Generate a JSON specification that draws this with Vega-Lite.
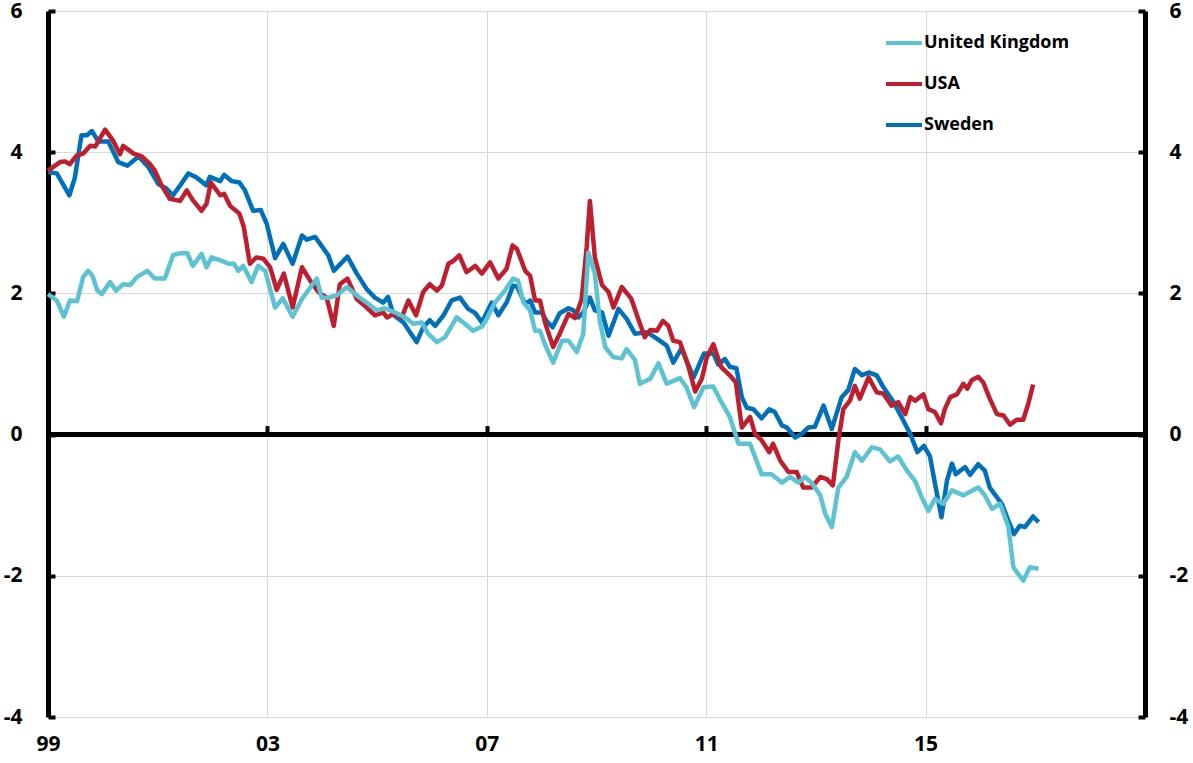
{
"$schema":"https://vega.github.io/schema/vega-lite/v6.json",
"width":1097,"height":706,
"autosize":{"type":"none"},
"padding":{"left":48,"top":11,"right":48,"bottom":46},
"config":{"view":{"stroke":null},"font":"Open Sans"},
"datasets":{"series":[
{"country":"Sweden","year":1999.00,"value":3.72},{"country":"Sweden","year":1999.16,"value":3.70},{"country":"Sweden","year":1999.39,"value":3.39},{"country":"Sweden","year":1999.49,"value":3.64},{"country":"Sweden","year":1999.61,"value":4.24},{"country":"Sweden","year":1999.71,"value":4.24},{"country":"Sweden","year":1999.80,"value":4.30},{"country":"Sweden","year":1999.92,"value":4.15},{"country":"Sweden","year":2000.10,"value":4.15},{"country":"Sweden","year":2000.28,"value":3.86},{"country":"Sweden","year":2000.45,"value":3.81},{"country":"Sweden","year":2000.65,"value":3.94},{"country":"Sweden","year":2000.83,"value":3.79},{"country":"Sweden","year":2001.01,"value":3.55},{"country":"Sweden","year":2001.15,"value":3.49},{"country":"Sweden","year":2001.28,"value":3.39},{"country":"Sweden","year":2001.41,"value":3.53},{"country":"Sweden","year":2001.56,"value":3.70},{"country":"Sweden","year":2001.71,"value":3.64},{"country":"Sweden","year":2001.89,"value":3.53},{"country":"Sweden","year":2001.95,"value":3.65},{"country":"Sweden","year":2002.14,"value":3.59},{"country":"Sweden","year":2002.21,"value":3.68},{"country":"Sweden","year":2002.35,"value":3.59},{"country":"Sweden","year":2002.49,"value":3.57},{"country":"Sweden","year":2002.59,"value":3.46},{"country":"Sweden","year":2002.74,"value":3.17},{"country":"Sweden","year":2002.88,"value":3.18},{"country":"Sweden","year":2002.99,"value":2.98},{"country":"Sweden","year":2003.14,"value":2.50},{"country":"Sweden","year":2003.29,"value":2.70},{"country":"Sweden","year":2003.46,"value":2.42},{"country":"Sweden","year":2003.63,"value":2.82},{"country":"Sweden","year":2003.72,"value":2.76},{"country":"Sweden","year":2003.87,"value":2.80},{"country":"Sweden","year":2004.11,"value":2.54},{"country":"Sweden","year":2004.21,"value":2.32},{"country":"Sweden","year":2004.46,"value":2.52},{"country":"Sweden","year":2004.63,"value":2.28},{"country":"Sweden","year":2004.81,"value":2.06},{"country":"Sweden","year":2004.96,"value":1.94},{"country":"Sweden","year":2005.11,"value":1.87},{"country":"Sweden","year":2005.20,"value":1.95},{"country":"Sweden","year":2005.30,"value":1.69},{"country":"Sweden","year":2005.48,"value":1.59},{"country":"Sweden","year":2005.60,"value":1.45},{"country":"Sweden","year":2005.72,"value":1.31},{"country":"Sweden","year":2005.84,"value":1.52},{"country":"Sweden","year":2005.96,"value":1.62},{"country":"Sweden","year":2006.06,"value":1.54},{"country":"Sweden","year":2006.21,"value":1.69},{"country":"Sweden","year":2006.36,"value":1.90},{"country":"Sweden","year":2006.51,"value":1.94},{"country":"Sweden","year":2006.66,"value":1.78},{"country":"Sweden","year":2006.79,"value":1.72},{"country":"Sweden","year":2006.91,"value":1.59},{"country":"Sweden","year":2007.09,"value":1.87},{"country":"Sweden","year":2007.21,"value":1.69},{"country":"Sweden","year":2007.36,"value":1.87},{"country":"Sweden","year":2007.48,"value":2.11},{"country":"Sweden","year":2007.55,"value":2.10},{"country":"Sweden","year":2007.70,"value":1.85},{"country":"Sweden","year":2007.79,"value":1.90},{"country":"Sweden","year":2007.88,"value":1.73},{"country":"Sweden","year":2008.00,"value":1.73},{"country":"Sweden","year":2008.09,"value":1.61},{"country":"Sweden","year":2008.20,"value":1.52},{"country":"Sweden","year":2008.33,"value":1.72},{"country":"Sweden","year":2008.49,"value":1.79},{"country":"Sweden","year":2008.58,"value":1.76},{"country":"Sweden","year":2008.67,"value":1.66},{"country":"Sweden","year":2008.76,"value":1.73},{"country":"Sweden","year":2008.88,"value":1.94},{"country":"Sweden","year":2008.97,"value":1.76},{"country":"Sweden","year":2009.10,"value":1.73},{"country":"Sweden","year":2009.22,"value":1.40},{"country":"Sweden","year":2009.40,"value":1.78},{"country":"Sweden","year":2009.55,"value":1.64},{"country":"Sweden","year":2009.70,"value":1.43},{"country":"Sweden","year":2009.92,"value":1.45},{"country":"Sweden","year":2010.10,"value":1.36},{"country":"Sweden","year":2010.28,"value":1.26},{"country":"Sweden","year":2010.40,"value":1.02},{"country":"Sweden","year":2010.55,"value":1.22},{"country":"Sweden","year":2010.77,"value":0.81},{"country":"Sweden","year":2010.96,"value":1.15},{"country":"Sweden","year":2011.13,"value":1.15},{"country":"Sweden","year":2011.22,"value":0.99},{"country":"Sweden","year":2011.34,"value":1.07},{"country":"Sweden","year":2011.43,"value":0.96},{"country":"Sweden","year":2011.55,"value":0.94},{"country":"Sweden","year":2011.65,"value":0.53},{"country":"Sweden","year":2011.74,"value":0.38},{"country":"Sweden","year":2011.86,"value":0.36},{"country":"Sweden","year":2012.01,"value":0.23},{"country":"Sweden","year":2012.15,"value":0.36},{"country":"Sweden","year":2012.25,"value":0.32},{"country":"Sweden","year":2012.38,"value":0.13},{"country":"Sweden","year":2012.47,"value":0.10},{"country":"Sweden","year":2012.62,"value":-0.04},{"country":"Sweden","year":2012.74,"value":0.01},{"country":"Sweden","year":2012.86,"value":0.10},{"country":"Sweden","year":2012.98,"value":0.11},{"country":"Sweden","year":2013.14,"value":0.41},{"country":"Sweden","year":2013.29,"value":0.08},{"country":"Sweden","year":2013.47,"value":0.53},{"country":"Sweden","year":2013.59,"value":0.63},{"country":"Sweden","year":2013.71,"value":0.93},{"country":"Sweden","year":2013.84,"value":0.84},{"country":"Sweden","year":2013.96,"value":0.88},{"country":"Sweden","year":2014.11,"value":0.84},{"country":"Sweden","year":2014.23,"value":0.67},{"country":"Sweden","year":2014.41,"value":0.47},{"country":"Sweden","year":2014.56,"value":0.25},{"country":"Sweden","year":2014.72,"value":0.01},{"country":"Sweden","year":2014.85,"value":-0.25},{"country":"Sweden","year":2014.97,"value":-0.16},{"country":"Sweden","year":2015.08,"value":-0.31},{"country":"Sweden","year":2015.17,"value":-0.69},{"country":"Sweden","year":2015.29,"value":-1.17},{"country":"Sweden","year":2015.39,"value":-0.65},{"country":"Sweden","year":2015.48,"value":-0.41},{"country":"Sweden","year":2015.55,"value":-0.56},{"country":"Sweden","year":2015.72,"value":-0.46},{"country":"Sweden","year":2015.81,"value":-0.57},{"country":"Sweden","year":2015.96,"value":-0.42},{"country":"Sweden","year":2016.08,"value":-0.51},{"country":"Sweden","year":2016.17,"value":-0.75},{"country":"Sweden","year":2016.39,"value":-0.98},{"country":"Sweden","year":2016.51,"value":-1.22},{"country":"Sweden","year":2016.61,"value":-1.41},{"country":"Sweden","year":2016.72,"value":-1.29},{"country":"Sweden","year":2016.81,"value":-1.31},{"country":"Sweden","year":2016.96,"value":-1.16},{"country":"Sweden","year":2017.06,"value":-1.24},
{"country":"USA","year":1999.00,"value":3.74},{"country":"USA","year":1999.22,"value":3.86},{"country":"USA","year":1999.31,"value":3.87},{"country":"USA","year":1999.40,"value":3.83},{"country":"USA","year":1999.52,"value":3.95},{"country":"USA","year":1999.64,"value":3.98},{"country":"USA","year":1999.77,"value":4.09},{"country":"USA","year":1999.86,"value":4.08},{"country":"USA","year":2000.04,"value":4.32},{"country":"USA","year":2000.19,"value":4.16},{"country":"USA","year":2000.31,"value":3.97},{"country":"USA","year":2000.37,"value":4.09},{"country":"USA","year":2000.56,"value":3.98},{"country":"USA","year":2000.71,"value":3.94},{"country":"USA","year":2000.86,"value":3.83},{"country":"USA","year":2000.95,"value":3.74},{"country":"USA","year":2001.07,"value":3.53},{"country":"USA","year":2001.22,"value":3.34},{"country":"USA","year":2001.41,"value":3.31},{"country":"USA","year":2001.53,"value":3.46},{"country":"USA","year":2001.65,"value":3.31},{"country":"USA","year":2001.80,"value":3.17},{"country":"USA","year":2001.89,"value":3.27},{"country":"USA","year":2001.97,"value":3.57},{"country":"USA","year":2002.14,"value":3.39},{"country":"USA","year":2002.21,"value":3.41},{"country":"USA","year":2002.32,"value":3.24},{"country":"USA","year":2002.49,"value":3.13},{"country":"USA","year":2002.57,"value":2.94},{"country":"USA","year":2002.68,"value":2.42},{"country":"USA","year":2002.80,"value":2.51},{"country":"USA","year":2002.93,"value":2.49},{"country":"USA","year":2003.05,"value":2.37},{"country":"USA","year":2003.17,"value":2.05},{"country":"USA","year":2003.30,"value":2.28},{"country":"USA","year":2003.46,"value":1.80},{"country":"USA","year":2003.63,"value":2.37},{"country":"USA","year":2003.78,"value":2.18},{"country":"USA","year":2003.93,"value":2.02},{"country":"USA","year":2004.08,"value":1.94},{"country":"USA","year":2004.21,"value":1.54},{"country":"USA","year":2004.32,"value":2.13},{"country":"USA","year":2004.46,"value":2.21},{"country":"USA","year":2004.63,"value":1.92},{"country":"USA","year":2004.81,"value":1.80},{"country":"USA","year":2004.96,"value":1.69},{"country":"USA","year":2005.11,"value":1.73},{"country":"USA","year":2005.18,"value":1.66},{"country":"USA","year":2005.30,"value":1.71},{"country":"USA","year":2005.45,"value":1.66},{"country":"USA","year":2005.57,"value":1.90},{"country":"USA","year":2005.71,"value":1.69},{"country":"USA","year":2005.84,"value":2.02},{"country":"USA","year":2005.96,"value":2.13},{"country":"USA","year":2006.09,"value":2.04},{"country":"USA","year":2006.18,"value":2.11},{"country":"USA","year":2006.30,"value":2.42},{"country":"USA","year":2006.39,"value":2.46},{"country":"USA","year":2006.50,"value":2.54},{"country":"USA","year":2006.63,"value":2.30},{"country":"USA","year":2006.79,"value":2.39},{"country":"USA","year":2006.91,"value":2.28},{"country":"USA","year":2007.06,"value":2.44},{"country":"USA","year":2007.21,"value":2.21},{"country":"USA","year":2007.36,"value":2.35},{"country":"USA","year":2007.47,"value":2.68},{"country":"USA","year":2007.55,"value":2.63},{"country":"USA","year":2007.70,"value":2.32},{"country":"USA","year":2007.79,"value":2.25},{"country":"USA","year":2007.88,"value":1.90},{"country":"USA","year":2007.97,"value":1.90},{"country":"USA","year":2008.06,"value":1.59},{"country":"USA","year":2008.21,"value":1.24},{"country":"USA","year":2008.33,"value":1.43},{"country":"USA","year":2008.49,"value":1.71},{"country":"USA","year":2008.61,"value":1.65},{"country":"USA","year":2008.73,"value":1.92},{"country":"USA","year":2008.82,"value":2.65},{"country":"USA","year":2008.88,"value":3.31},{"country":"USA","year":2008.97,"value":2.51},{"country":"USA","year":2009.10,"value":2.12},{"country":"USA","year":2009.22,"value":2.02},{"country":"USA","year":2009.31,"value":1.80},{"country":"USA","year":2009.46,"value":2.09},{"country":"USA","year":2009.63,"value":1.93},{"country":"USA","year":2009.76,"value":1.64},{"country":"USA","year":2009.88,"value":1.38},{"country":"USA","year":2009.98,"value":1.48},{"country":"USA","year":2010.10,"value":1.47},{"country":"USA","year":2010.21,"value":1.61},{"country":"USA","year":2010.31,"value":1.54},{"country":"USA","year":2010.40,"value":1.33},{"country":"USA","year":2010.52,"value":1.31},{"country":"USA","year":2010.67,"value":0.98},{"country":"USA","year":2010.80,"value":0.61},{"country":"USA","year":2010.92,"value":0.79},{"country":"USA","year":2011.01,"value":1.09},{"country":"USA","year":2011.13,"value":1.28},{"country":"USA","year":2011.27,"value":0.96},{"country":"USA","year":2011.43,"value":0.84},{"country":"USA","year":2011.54,"value":0.74},{"country":"USA","year":2011.65,"value":0.10},{"country":"USA","year":2011.80,"value":0.25},{"country":"USA","year":2011.89,"value":0.01},{"country":"USA","year":2012.01,"value":-0.08},{"country":"USA","year":2012.15,"value":-0.25},{"country":"USA","year":2012.22,"value":-0.13},{"country":"USA","year":2012.35,"value":-0.37},{"country":"USA","year":2012.50,"value":-0.53},{"country":"USA","year":2012.65,"value":-0.53},{"country":"USA","year":2012.77,"value":-0.75},{"country":"USA","year":2012.92,"value":-0.75},{"country":"USA","year":2013.08,"value":-0.60},{"country":"USA","year":2013.20,"value":-0.63},{"country":"USA","year":2013.31,"value":-0.72},{"country":"USA","year":2013.41,"value":-0.08},{"country":"USA","year":2013.50,"value":0.36},{"country":"USA","year":2013.62,"value":0.48},{"country":"USA","year":2013.71,"value":0.69},{"country":"USA","year":2013.80,"value":0.51},{"country":"USA","year":2013.96,"value":0.81},{"country":"USA","year":2014.11,"value":0.60},{"country":"USA","year":2014.23,"value":0.58},{"country":"USA","year":2014.38,"value":0.41},{"country":"USA","year":2014.50,"value":0.46},{"country":"USA","year":2014.63,"value":0.29},{"country":"USA","year":2014.72,"value":0.53},{"country":"USA","year":2014.81,"value":0.48},{"country":"USA","year":2014.96,"value":0.57},{"country":"USA","year":2015.05,"value":0.36},{"country":"USA","year":2015.17,"value":0.32},{"country":"USA","year":2015.28,"value":0.16},{"country":"USA","year":2015.35,"value":0.36},{"country":"USA","year":2015.45,"value":0.53},{"country":"USA","year":2015.57,"value":0.57},{"country":"USA","year":2015.69,"value":0.72},{"country":"USA","year":2015.76,"value":0.65},{"country":"USA","year":2015.84,"value":0.77},{"country":"USA","year":2015.96,"value":0.82},{"country":"USA","year":2016.05,"value":0.74},{"country":"USA","year":2016.17,"value":0.51},{"country":"USA","year":2016.30,"value":0.29},{"country":"USA","year":2016.42,"value":0.27},{"country":"USA","year":2016.54,"value":0.14},{"country":"USA","year":2016.66,"value":0.21},{"country":"USA","year":2016.78,"value":0.21},{"country":"USA","year":2016.87,"value":0.43},{"country":"USA","year":2016.96,"value":0.71},
{"country":"United Kingdom","year":1999.00,"value":1.99},{"country":"United Kingdom","year":1999.16,"value":1.90},{"country":"United Kingdom","year":1999.29,"value":1.67},{"country":"United Kingdom","year":1999.40,"value":1.90},{"country":"United Kingdom","year":1999.53,"value":1.89},{"country":"United Kingdom","year":1999.64,"value":2.23},{"country":"United Kingdom","year":1999.73,"value":2.32},{"country":"United Kingdom","year":1999.81,"value":2.25},{"country":"United Kingdom","year":1999.90,"value":2.04},{"country":"United Kingdom","year":1999.98,"value":1.99},{"country":"United Kingdom","year":2000.13,"value":2.16},{"country":"United Kingdom","year":2000.24,"value":2.04},{"country":"United Kingdom","year":2000.37,"value":2.13},{"country":"United Kingdom","year":2000.50,"value":2.12},{"country":"United Kingdom","year":2000.62,"value":2.23},{"country":"United Kingdom","year":2000.81,"value":2.32},{"country":"United Kingdom","year":2000.95,"value":2.21},{"country":"United Kingdom","year":2001.13,"value":2.21},{"country":"United Kingdom","year":2001.28,"value":2.54},{"country":"United Kingdom","year":2001.41,"value":2.57},{"country":"United Kingdom","year":2001.54,"value":2.57},{"country":"United Kingdom","year":2001.64,"value":2.39},{"country":"United Kingdom","year":2001.80,"value":2.56},{"country":"United Kingdom","year":2001.89,"value":2.37},{"country":"United Kingdom","year":2001.98,"value":2.51},{"country":"United Kingdom","year":2002.17,"value":2.46},{"country":"United Kingdom","year":2002.29,"value":2.42},{"country":"United Kingdom","year":2002.39,"value":2.42},{"country":"United Kingdom","year":2002.47,"value":2.32},{"country":"United Kingdom","year":2002.56,"value":2.39},{"country":"United Kingdom","year":2002.71,"value":2.16},{"country":"United Kingdom","year":2002.83,"value":2.39},{"country":"United Kingdom","year":2002.96,"value":2.32},{"country":"United Kingdom","year":2003.14,"value":1.80},{"country":"United Kingdom","year":2003.28,"value":1.93},{"country":"United Kingdom","year":2003.46,"value":1.67},{"country":"United Kingdom","year":2003.63,"value":1.92},{"country":"United Kingdom","year":2003.78,"value":2.08},{"country":"United Kingdom","year":2003.90,"value":2.21},{"country":"United Kingdom","year":2003.99,"value":1.94},{"country":"United Kingdom","year":2004.11,"value":1.94},{"country":"United Kingdom","year":2004.26,"value":1.97},{"country":"United Kingdom","year":2004.45,"value":2.09},{"country":"United Kingdom","year":2004.63,"value":1.97},{"country":"United Kingdom","year":2004.81,"value":1.87},{"country":"United Kingdom","year":2004.99,"value":1.76},{"country":"United Kingdom","year":2005.14,"value":1.79},{"country":"United Kingdom","year":2005.33,"value":1.73},{"country":"United Kingdom","year":2005.51,"value":1.66},{"country":"United Kingdom","year":2005.66,"value":1.57},{"country":"United Kingdom","year":2005.81,"value":1.59},{"country":"United Kingdom","year":2005.93,"value":1.43},{"country":"United Kingdom","year":2006.09,"value":1.31},{"country":"United Kingdom","year":2006.24,"value":1.38},{"country":"United Kingdom","year":2006.45,"value":1.66},{"country":"United Kingdom","year":2006.60,"value":1.57},{"country":"United Kingdom","year":2006.75,"value":1.47},{"country":"United Kingdom","year":2006.91,"value":1.53},{"country":"United Kingdom","year":2007.00,"value":1.64},{"country":"United Kingdom","year":2007.15,"value":1.87},{"country":"United Kingdom","year":2007.33,"value":2.04},{"country":"United Kingdom","year":2007.48,"value":2.21},{"country":"United Kingdom","year":2007.57,"value":2.18},{"country":"United Kingdom","year":2007.67,"value":1.87},{"country":"United Kingdom","year":2007.79,"value":1.76},{"country":"United Kingdom","year":2007.88,"value":1.47},{"country":"United Kingdom","year":2007.97,"value":1.47},{"country":"United Kingdom","year":2008.06,"value":1.28},{"country":"United Kingdom","year":2008.21,"value":1.02},{"country":"United Kingdom","year":2008.37,"value":1.33},{"country":"United Kingdom","year":2008.49,"value":1.33},{"country":"United Kingdom","year":2008.64,"value":1.17},{"country":"United Kingdom","year":2008.76,"value":1.43},{"country":"United Kingdom","year":2008.85,"value":2.58},{"country":"United Kingdom","year":2008.97,"value":2.28},{"country":"United Kingdom","year":2009.06,"value":1.61},{"country":"United Kingdom","year":2009.16,"value":1.24},{"country":"United Kingdom","year":2009.30,"value":1.10},{"country":"United Kingdom","year":2009.46,"value":1.08},{"country":"United Kingdom","year":2009.55,"value":1.21},{"country":"United Kingdom","year":2009.70,"value":1.06},{"country":"United Kingdom","year":2009.79,"value":0.72},{"country":"United Kingdom","year":2009.98,"value":0.79},{"country":"United Kingdom","year":2010.13,"value":1.01},{"country":"United Kingdom","year":2010.28,"value":0.72},{"country":"United Kingdom","year":2010.52,"value":0.80},{"country":"United Kingdom","year":2010.64,"value":0.67},{"country":"United Kingdom","year":2010.78,"value":0.39},{"country":"United Kingdom","year":2010.95,"value":0.67},{"country":"United Kingdom","year":2011.13,"value":0.68},{"country":"United Kingdom","year":2011.25,"value":0.50},{"country":"United Kingdom","year":2011.43,"value":0.25},{"country":"United Kingdom","year":2011.59,"value":-0.13},{"country":"United Kingdom","year":2011.80,"value":-0.13},{"country":"United Kingdom","year":2012.01,"value":-0.56},{"country":"United Kingdom","year":2012.19,"value":-0.56},{"country":"United Kingdom","year":2012.38,"value":-0.68},{"country":"United Kingdom","year":2012.53,"value":-0.60},{"country":"United Kingdom","year":2012.68,"value":-0.68},{"country":"United Kingdom","year":2012.80,"value":-0.60},{"country":"United Kingdom","year":2012.92,"value":-0.68},{"country":"United Kingdom","year":2013.08,"value":-0.86},{"country":"United Kingdom","year":2013.17,"value":-1.12},{"country":"United Kingdom","year":2013.29,"value":-1.31},{"country":"United Kingdom","year":2013.41,"value":-0.75},{"country":"United Kingdom","year":2013.56,"value":-0.60},{"country":"United Kingdom","year":2013.71,"value":-0.25},{"country":"United Kingdom","year":2013.84,"value":-0.37},{"country":"United Kingdom","year":2014.02,"value":-0.18},{"country":"United Kingdom","year":2014.17,"value":-0.21},{"country":"United Kingdom","year":2014.35,"value":-0.38},{"country":"United Kingdom","year":2014.50,"value":-0.31},{"country":"United Kingdom","year":2014.66,"value":-0.51},{"country":"United Kingdom","year":2014.81,"value":-0.66},{"country":"United Kingdom","year":2014.93,"value":-0.89},{"country":"United Kingdom","year":2015.05,"value":-1.08},{"country":"United Kingdom","year":2015.17,"value":-0.91},{"country":"United Kingdom","year":2015.32,"value":-0.98},{"country":"United Kingdom","year":2015.48,"value":-0.79},{"country":"United Kingdom","year":2015.69,"value":-0.86},{"country":"United Kingdom","year":2015.96,"value":-0.75},{"country":"United Kingdom","year":2016.08,"value":-0.86},{"country":"United Kingdom","year":2016.21,"value":-1.05},{"country":"United Kingdom","year":2016.36,"value":-0.98},{"country":"United Kingdom","year":2016.51,"value":-1.31},{"country":"United Kingdom","year":2016.60,"value":-1.88},{"country":"United Kingdom","year":2016.78,"value":-2.07},{"country":"United Kingdom","year":2016.90,"value":-1.88},{"country":"United Kingdom","year":2017.06,"value":-1.90}
]},
"layer":[
{"data":{"values":[{}]},
 "mark":{"type":"rule","color":"#000000","strokeWidth":5},
 "encoding":{
  "x":{"datum":1999,"type":"quantitative","axis":{"orient":"bottom","offset":-282.4,"values":[2003,2007,2011,2015],"labels":false,"domain":false,"grid":false,"ticks":true,"tickSize":-9,"tickWidth":4,"tickColor":"#000000","title":null}},
  "x2":{"datum":2019},
  "y":{"datum":0,"type":"quantitative","axis":{"orient":"right","values":[-4,-2,0,2,4,6],"labelExpr":"toString(datum.value)","labelFlush":false,"grid":false,"domain":true,"domainColor":"#000000","domainWidth":5,"ticks":true,"tickSize":-7,"tickWidth":4,"tickColor":"#000000","labelPadding":31,"labelFontSize":21,"labelFontWeight":"bold","labelColor":"#000000","labelFont":"Open Sans","title":null}}
 }},
{"data":{"name":"series"},
 "mark":{"type":"line","strokeWidth":4.5,"strokeJoin":"round"},
 "encoding":{
  "x":{"field":"year","type":"quantitative","scale":{"domain":[1999,2019],"nice":false,"zero":false},"axis":{"orient":"bottom","values":[1999,2003,2007,2011,2015,2019],"labelExpr":"datum.value == 2019 ? '' : substring(toString(datum.value),2)","labelFlush":false,"grid":true,"gridColor":"#d9d9d9","gridWidth":1,"domain":false,"ticks":false,"labelPadding":16,"labelFontSize":21,"labelFontWeight":"bold","labelColor":"#000000","labelFont":"Open Sans","title":null}},
  "y":{"field":"value","type":"quantitative","scale":{"domain":[-4,6],"nice":false,"zero":false},"axis":{"orient":"left","values":[-4,-2,0,2,4,6],"labelExpr":"toString(datum.value)","labelFlush":false,"grid":true,"gridColor":"#d9d9d9","gridWidth":1,"domain":true,"domainColor":"#000000","domainWidth":5,"ticks":true,"tickSize":-7,"tickWidth":4,"tickColor":"#000000","labelPadding":33,"labelFontSize":21,"labelFontWeight":"bold","labelColor":"#000000","labelFont":"Open Sans","title":null}},
  "color":{"field":"country","type":"nominal","scale":{"domain":["United Kingdom","USA","Sweden"],"range":["#5bc3d1","#be1e2d","#0070ba"]},
   "legend":{"orient":"none","legendX":836,"legendY":12,"title":null,"symbolType":"stroke","symbolSize":1296,"symbolStrokeWidth":4,"labelFontSize":18,"labelFontWeight":"bold","labelColor":"#000000","labelFont":"Open Sans","labelOffset":0,"rowPadding":12,"padding":0}}
 }}
],
"resolve":{"axis":{"x":"independent","y":"independent"}}
}
